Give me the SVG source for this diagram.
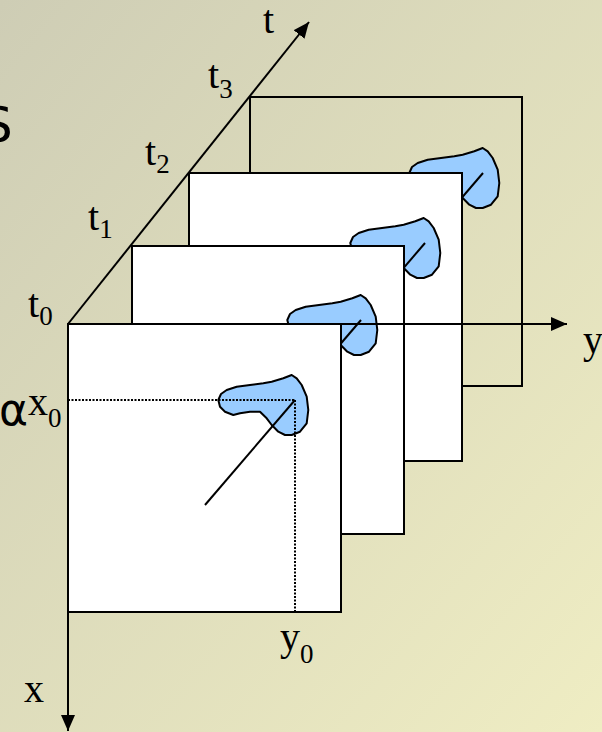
<svg xmlns="http://www.w3.org/2000/svg" xmlns:xlink="http://www.w3.org/1999/xlink" width="602" height="732" viewBox="0 0 602 732">
<defs>
<linearGradient id="bg" x1="0" y1="0" x2="1" y2="1">
<stop offset="0" stop-color="#cecdb5"/>
<stop offset="1" stop-color="#efedc3"/>
</linearGradient>
<marker id="ah" markerUnits="userSpaceOnUse" markerWidth="17" markerHeight="14" refX="16" refY="7" orient="auto">
<path d="M0,0 L16,7 L0,14 z" fill="#000"/>
</marker>
<path id="blob" d="M-76.7,0 L-75,6.7 L-70,11.7 L-61.7,15 L-55,13.3 L-45,11.7 L-35,11.7 L-28.3,18.3 L-23.3,25 L-16.7,31.7 L-10,35 L-3.3,35 L5,31.7 L11.7,23.3 L13.3,10 L11.7,-3.3 L6.7,-15 L1.7,-21.7 L-3.3,-25 L-11.7,-21.7 L-23.3,-18.3 L-31.7,-16.7 L-45,-15 L-58.3,-13.3 L-68.3,-10 L-74,-6 Z"/>
</defs>
<style>
.frame{stroke:#000;stroke-width:2}
.blob{fill:#99ccff;stroke:#000;stroke-width:2;stroke-linejoin:round}
.ln{stroke:#000;stroke-width:2;fill:none}
.dot{stroke:#000;stroke-width:2;stroke-dasharray:2 1.5;fill:none}
.lbl{font-family:"Liberation Serif","Times New Roman",serif;font-size:40px;fill:#000}
.sub{font-size:27px}
.sans{font-family:"DejaVu Sans","Verdana",sans-serif;fill:#000}
</style>
<rect width="602" height="732" fill="url(#bg)"/>
<text class="sans" x="-19" y="142" font-size="50">S</text>
<text class="sans" x="-1" y="425" font-size="44">α</text>

<g id="frame3">
<rect class="frame" x="250" y="97" width="272" height="289" fill="none"/>
<use href="#blob" xlink:href="#blob" class="blob" transform="translate(486,173)"/>
<line class="ln" x1="483" y1="173" x2="393" y2="278"/>
</g>
<g id="frame2">
<rect class="frame" x="189" y="173" width="273" height="288" fill="#fff"/>
<use href="#blob" xlink:href="#blob" class="blob" transform="translate(427,243)"/>
<line class="ln" x1="425" y1="243" x2="335" y2="348"/>
</g>
<g id="frame1">
<rect class="frame" x="132" y="246" width="272" height="288" fill="#fff"/>
<use href="#blob" xlink:href="#blob" class="blob" transform="translate(364,320)"/>
<line class="ln" x1="361" y1="320" x2="271" y2="425"/>
</g>
<g id="frame0">
<rect class="frame" x="68" y="324" width="273" height="288" fill="#fff"/>
<use href="#blob" xlink:href="#blob" class="blob" transform="translate(295,400)"/>
<line class="dot" x1="68" y1="400" x2="295" y2="400"/>
<line class="dot" x1="295" y1="400" x2="295" y2="612"/>
<line class="ln" x1="295" y1="400" x2="205" y2="505"/>
</g>

<g id="connectors">
<line class="ln" x1="68" y1="324" x2="309" y2="22" marker-end="url(#ah)"/>
<line class="ln" x1="68" y1="324" x2="567" y2="324" marker-end="url(#ah)"/>
<line class="ln" x1="68" y1="324" x2="68" y2="731" marker-end="url(#ah)"/>
</g>

<g id="labels">
<text class="lbl" x="263" y="33">t</text>
<text class="lbl" x="208" y="88">t<tspan class="sub" dy="10">3</tspan></text>
<text class="lbl" x="145" y="165">t<tspan class="sub" dy="8">2</tspan></text>
<text class="lbl" x="88" y="230">t<tspan class="sub" dy="8">1</tspan></text>
<text class="lbl" x="28" y="317">t<tspan class="sub" dy="8">0</tspan></text>
<text class="lbl" x="583" y="353">y</text>
<text class="lbl" x="28" y="415" font-size="36">x<tspan class="sub" dy="12">0</tspan></text>
<text class="lbl" x="280" y="650">y<tspan class="sub" dy="13">0</tspan></text>
<text class="lbl" x="24" y="702">x</text>
</g>
</svg>
